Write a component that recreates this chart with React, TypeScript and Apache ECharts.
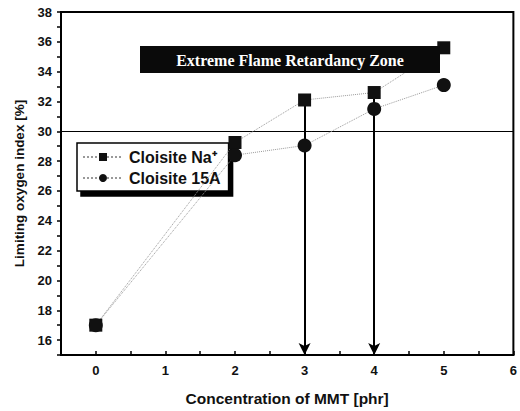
import React, { useEffect, useRef } from "react";
import * as echarts from "echarts";

const concentrations = [0, 2, 3, 4, 5];
const cloisiteNa = [17.0, 29.25, 32.1, 32.6, 35.6];
const cloisite15A = [17.0, 28.4, 29.05, 31.5, 33.1];
const seriesNames = ["Cloisite Na⁺", "Cloisite 15A"];
const lowThreshold = 30;
const arrowConcentrations = [3, 4];
const zoneLabel = "Extreme Flame Retardancy Zone";

export default function App() {
  const ref = useRef<HTMLDivElement>(null);
  useEffect(() => {
    document.body.style.margin = "0";
    document.body.style.overflow = "hidden";
    if (!ref.current) return;
    const chart = echarts.init(ref.current, null, { renderer: "svg" });
    const font = "'Liberation Sans', Arial, sans-serif";
    const naData = concentrations.map((c, i) => [c, cloisiteNa[i]]);
    const aData = concentrations.map((c, i) => [c, cloisite15A[i]]);
    const arrowLines = arrowConcentrations.map((c) => {
      const idx = concentrations.indexOf(c);
      return [{ coord: [c, cloisiteNa[idx]] }, { coord: [c, 15] }];
    });
    chart.setOption({
      animation: false,
      backgroundColor: "#fff",
      grid: {
        left: 61,
        right: 1,
        top: 12,
        bottom: 56,
        show: true,
        borderColor: "#000",
        borderWidth: 2,
      },
      xAxis: {
        type: "value",
        min: -0.5,
        max: 6,
        interval: 0.5,
        name: "Concentration of MMT [phr]",
        nameLocation: "middle",
        nameGap: 35,
        nameTextStyle: { fontFamily: font, fontSize: 15.5, fontWeight: "bold", color: "#111" },
        axisLine: { show: true, onZero: false, lineStyle: { color: "#000", width: 2 } },
        axisTick: { show: true, inside: true, length: 4, lineStyle: { color: "#000", width: 1.5 } },
        axisLabel: {
          fontFamily: font,
          fontSize: 13,
          fontWeight: "bold",
          color: "#111",
          margin: 9,
          formatter: (v: number) => (Number.isInteger(v) ? String(v) : ""),
        },
        splitLine: { show: false },
      },
      yAxis: {
        type: "value",
        min: 15,
        max: 38,
        interval: 1,
        name: "Limiting oxygen index [%]",
        nameLocation: "middle",
        nameGap: 35,
        nameTextStyle: { fontFamily: font, fontSize: 13.5, fontWeight: "bold", color: "#111" },
        axisLine: { show: true, onZero: false, lineStyle: { color: "#000", width: 2 } },
        axisTick: { show: true, length: 4, lineStyle: { color: "#000", width: 1.5 } },
        axisLabel: {
          fontFamily: font,
          fontSize: 13,
          fontWeight: "bold",
          color: "#111",
          margin: 9,
          formatter: (v: number) => (v % 2 === 0 ? String(v) : ""),
        },
        splitLine: { show: false },
      },
      legend: {
        orient: "vertical",
        left: 77,
        top: 143,
        itemWidth: 40,
        itemHeight: 10,
        itemGap: 5,
        padding: [6, 8, 5, 5],
        backgroundColor: "#fff",
        borderColor: "#000",
        borderWidth: 1.5,
        shadowColor: "#000",
        shadowOffsetX: 4,
        shadowOffsetY: 5,
        shadowBlur: 0,
        textStyle: { fontFamily: font, fontSize: 16, fontWeight: "bold", color: "#111", padding: [0, 0, 0, 1] },
        data: seriesNames,
      },
      graphic: [
        {
          type: "rect",
          shape: { x: 140, y: 46, width: 300, height: 27 },
          style: { fill: "#0a0a0a" },
          z: 10,
        },
        {
          type: "text",
          x: 290,
          y: 60,
          style: {
            text: zoneLabel,
            fill: "#fff",
            font: "bold 16px 'Liberation Serif', 'Times New Roman', serif",
            textAlign: "center",
            textVerticalAlign: "middle",
          },
          z: 11,
        },
      ],
      series: [
        {
          name: seriesNames[0],
          type: "line",
          data: naData,
          symbol: "rect",
          symbolSize: 13,
          itemStyle: { color: "#111" },
          lineStyle: { color: "#999", width: 1, type: "dotted" },
          z: 5,
          markLine: {
            silent: true,
            symbol: ["none", "arrow"],
            symbolSize: [9, 12],
            label: { show: false },
            lineStyle: { color: "#000", width: 2, type: "solid" },
            data: arrowLines,
          },
        },
        {
          name: seriesNames[1],
          type: "line",
          data: aData,
          symbol: "circle",
          symbolSize: 14,
          itemStyle: { color: "#111" },
          lineStyle: { color: "#999", width: 1, type: "dotted" },
          z: 5,
          markLine: {
            silent: true,
            symbol: ["none", "none"],
            label: { show: false },
            lineStyle: { color: "#000", width: 1, type: "solid" },
            data: [{ yAxis: lowThreshold }],
          },
        },
      ],
    });
    return () => chart.dispose();
  }, []);
  return <div ref={ref} style={{ width: 520, height: 411 }} />;
}
